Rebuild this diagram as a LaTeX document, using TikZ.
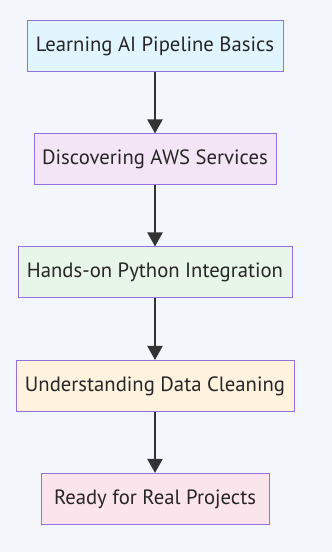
\documentclass[tikz,border=0pt]{standalone}
\usepackage{fontspec}
\setmainfont{PT Sans}
\usetikzlibrary{arrows.meta}
\definecolor{bgc}{HTML}{F3F6FA}
\definecolor{bord}{HTML}{9370DB}
\definecolor{txt}{HTML}{333333}
\definecolor{tx2}{HTML}{262626}
\definecolor{fA}{HTML}{E1F5FE}
\definecolor{fB}{HTML}{F3E5F5}
\definecolor{fC}{HTML}{E8F5E9}
\definecolor{fD}{HTML}{FFF3E0}
\definecolor{fE}{HTML}{FCE4EC}
\tikzset{
  stepbox/.style={draw=bord, line width=1pt, minimum height=51pt, inner sep=0pt,
    text=tx2, font=\fontsize{20.7pt}{24pt}\selectfont},
  flow/.style={draw=txt, line width=2pt, -{Triangle[width=15pt,length=14pt]}, shorten >=0pt}
}
\begin{document}
\begin{tikzpicture}[x=1pt,y=1pt]
\fill[bgc] (0,0) rectangle (332,552);
\useasboundingbox (0,0) rectangle (332,552);
\node[stepbox, fill=fA, minimum width=256pt] (a) at (155,505.6) {Learning AI Pipeline Basics};
\node[stepbox, fill=fB, minimum width=242pt] (b) at (155,392.5) {Discovering AWS Services};
\node[stepbox, fill=fC, minimum width=274pt] (c) at (155,279.5) {Hands-on Python Integration};
\node[stepbox, fill=fD, minimum width=278pt] (d) at (155,166) {Understanding Data Cleaning};
\node[stepbox, fill=fE, minimum width=228pt] (e) at (155,53) {Ready for Real Projects};
\draw[flow] (a) -- (b);
\draw[flow] (b) -- (c);
\draw[flow] (c) -- (d);
\draw[flow] (d) -- (e);
\end{tikzpicture}
\end{document}
